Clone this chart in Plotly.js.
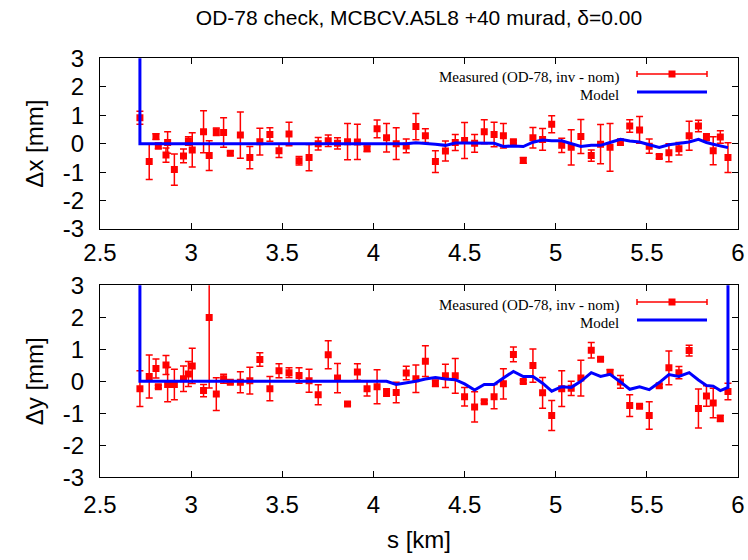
<!DOCTYPE html>
<html>
<head>
<meta charset="utf-8">
<script src="https://cdn.plot.ly/plotly-3.0.1.min.js"></script>
<style>html,body{margin:0;padding:0;background:#fff;}#chart{width:748px;height:560px;}</style>
</head>
<body>
<div id="chart"></div>
<script>
// BPM positions s [km]
const s = [2.719, 2.770, 2.807, 2.820, 2.862, 2.871, 2.908, 2.958, 2.985, 3.006,
  3.068, 3.099, 3.138, 3.178, 3.215, 3.270, 3.322, 3.377, 3.432, 3.482,
  3.537, 3.592, 3.647, 3.697, 3.752, 3.803, 3.858, 3.912, 3.965, 4.020,
  4.072, 4.125, 4.180, 4.233, 4.285, 4.340, 4.395, 4.449, 4.500, 4.555,
  4.608, 4.662, 4.713, 4.768, 4.822, 4.875, 4.928, 4.978, 5.033, 5.085,
  5.138, 5.195, 5.246, 5.298, 5.355, 5.406, 5.460, 5.513, 5.568, 5.621,
  5.676, 5.732, 5.783, 5.827, 5.864, 5.903, 5.945];

// Measured horizontal difference [mm] and errors
const dx = [0.91, -0.63, 0.25, -0.08, -0.40, 0.04, -0.91, -0.43, 0.09, -0.22,
  0.42, -0.42, 0.42, 0.39, -0.34, 0.30, -0.49, 0.07, 0.32, -0.25,
  0.34, -0.60, -0.49, 0.00, 0.10, 0.01, 0.07, 0.06, -0.18, 0.52,
  0.21, 0.00, -0.08, 0.60, 0.28, -0.63, -0.26, 0.04, 0.11, 0.01,
  0.42, 0.32, 0.28, 0.07, -0.59, 0.21, 0.15, 0.68, -0.06, -0.13,
  0.25, -0.42, -0.02, -0.13, 0.05, 0.62, 0.48, -0.09, -0.45, -0.32,
  -0.18, 0.28, 0.62, 0.23, -0.25, 0.23, -0.49];
const dxErr = [0.23, 0.63, 0.10, 0.10, 0.25, 0.38, 0.55, 0.24, 0.15, 0.60,
  0.74, 0.52, 0.13, 0.52, 0.08, 0.81, 0.39, 0.47, 0.24, 0.24,
  0.41, 0.15, 0.46, 0.22, 0.20, 0.20, 0.64, 0.62, 0.10, 0.31,
  0.50, 0.56, 0.24, 0.46, 0.24, 0.38, 0.35, 0.28, 0.63, 0.31,
  0.42, 0.43, 0.43, 0.05, 0.10, 0.36, 0.38, 0.30, 0.25, 0.62,
  0.60, 0.20, 0.69, 0.84, 0.11, 0.22, 0.47, 0.25, 0.07, 0.32,
  0.22, 0.51, 0.20, 0.12, 0.49, 0.22, 0.52];

// Measured vertical difference [mm] and errors
const dy = [-0.23, 0.15, 0.40, -0.17, 0.51, -0.10, -0.10, 0.08, 0.23, 0.48,
  -0.29, 1.99, -0.40, 0.08, -0.03, -0.03, 0.02, 0.68, -0.23, 0.33,
  0.27, 0.18, 0.02, -0.42, 0.83, 0.10, -0.71, 0.29, -0.23, -0.17,
  -0.35, -0.35, 0.26, 0.08, 0.63, -0.06, 0.17, 0.17, -0.48, -0.80,
  -0.64, -0.48, -0.08, 0.84, -0.01, 0.49, -0.36, -1.07, -0.23, -0.22,
  0.10, 0.97, 0.69, 0.28, -0.02, -0.76, -0.78, -1.07, -0.14, 0.42,
  0.27, 0.96, -0.85, -0.46, -0.68, -1.16, -0.32];
const dyErr = [0.56, 0.67, 0.30, 0.05, 0.30, 0.54, 0.48, 0.40, 0.39, 0.55,
  0.19, 2.20, 0.51, 0.14, 0.05, 0.33, 0.42, 0.21, 0.38, 0.22,
  0.15, 0.24, 0.36, 0.31, 0.44, 0.46, 0.05, 0.26, 0.23, 0.53,
  0.12, 0.32, 0.21, 0.43, 0.48, 0.10, 0.36, 0.54, 0.29, 0.47,
  0.05, 0.38, 0.47, 0.23, 0.05, 0.52, 0.48, 0.47, 0.56, 0.22,
  0.56, 0.24, 0.05, 0.08, 0.20, 0.34, 0.05, 0.43, 0.05, 0.53,
  0.19, 0.17, 0.61, 0.32, 0.46, 0.10, 0.26];

// Model at the BPMs
const modelDx = [0, 0, 0, 0, 0, 0, 0, 0, 0, 0,
  0, 0, 0, 0, 0, 0, 0, 0, 0, 0,
  0, 0, 0, 0, 0, 0, 0, 0, 0, 0,
  0, 0, 0, 0.03, 0.01, -0.02, -0.06, 0.02, 0.02, 0.02,
  0.02, 0.01, -0.10, -0.08, -0.10, 0.05, 0.13, 0.10, 0.10, -0.01,
  -0.10, -0.06, -0.06, 0.04, 0.15, 0.09, 0.06, -0.04, -0.13, -0.04,
  0.00, 0.06, 0.15, 0.04, -0.02, -0.08, -0.14];
const modelDy = [0, 0, 0, 0, 0, 0, 0, 0, 0, 0,
  0, 0, 0, 0, 0, 0, 0, 0, 0, 0,
  0, 0, 0, 0, 0, 0, 0, 0, 0, 0,
  0, -0.10, -0.06, 0.00, 0.07, 0.12, 0.07, 0.05, -0.08, -0.27,
  -0.10, -0.10, 0.10, 0.31, 0.15, 0.15, -0.06, -0.31, -0.17, -0.19,
  0.00, 0.27, 0.15, 0.22, -0.02, -0.25, -0.17, -0.26, -0.04, 0.21,
  0.15, 0.27, 0.04, -0.13, -0.15, -0.29, -0.19];
// Model value at the kick/edge points (far off the +3 mm scale)
const modelOffScale = 10;

const xTicks = [2.5, 3, 3.5, 4, 4.5, 5, 5.5, 6];
const xTickText = ['2.5', '3', '3.5', '4', '4.5', '5', '5.5', '6'];
const yTicks = [-3, -2, -1, 0, 1, 2, 3];
const yTickText = ['-3', '-2', '-1', '0', '1', '2', '3'];

const RED = '#ff0000', BLUE = '#0000ff';
const W = 748, H = 560;
const px = v => v / W, py = v => 1 - v / H;

function measured(y, err, xa, ya) {
  return {
    x: s, y: y, xaxis: xa, yaxis: ya, type: 'scatter', mode: 'markers',
    name: 'Measured (OD-78, inv - nom)',
    marker: {symbol: 'square', size: 7, color: RED},
    error_y: {type: 'data', array: err, visible: true, color: RED, thickness: 1.5, width: 3.5},
    cliponaxis: true
  };
}
const traces = [
  measured(dx, dxErr, 'x', 'y'),
  {x: [s[0]].concat(s), y: [modelOffScale].concat(modelDx), xaxis: 'x', yaxis: 'y',
   type: 'scatter', mode: 'lines', name: 'Model', line: {color: BLUE, width: 3}},
  measured(dy, dyErr, 'x2', 'y2'),
  {x: [s[0]].concat(s, [s[s.length - 1]]), y: [modelOffScale].concat(modelDy, [modelOffScale]),
   xaxis: 'x2', yaxis: 'y2', type: 'scatter', mode: 'lines', name: 'Model', line: {color: BLUE, width: 3}}
];

const FONT = 'Liberation Sans, Arial, sans-serif';
function xax(anchor, title, labelGap) {
  const a = {
    domain: [px(100), px(738)], range: [2.5, 6], anchor: anchor,
    tickmode: 'array', tickvals: xTicks, ticktext: xTickText,
    ticks: 'inside', ticklen: 6, tickwidth: 1, tickcolor: '#000',
    showline: true, linecolor: '#000', linewidth: 1, mirror: 'ticks',
    showgrid: false, zeroline: false, automargin: false,
    tickfont: {family: FONT, size: 24, color: '#000'}, ticklabelstandoff: labelGap
  };
  if (title) a.title = {text: title, font: {family: FONT, size: 24, color: '#000'}, standoff: 14};
  return a;
}
function yax(anchor, d0, d1, title) {
  return {
    domain: [py(d1), py(d0)], range: [-3, 3], anchor: anchor,
    tickmode: 'array', tickvals: yTicks, ticktext: yTickText,
    ticks: 'inside', ticklen: 6, tickwidth: 1, tickcolor: '#000',
    showline: true, linecolor: '#000', linewidth: 1, mirror: 'ticks',
    showgrid: false, zeroline: false, automargin: false,
    tickfont: {family: FONT, size: 24, color: '#000'}, ticklabelstandoff: 10,
    title: {text: title, font: {family: FONT, size: 24, color: '#000'}, standoff: 12}
  };
}

const SERIF = 'Liberation Serif, Times New Roman, serif';
const shapes = [], annotations = [];
function legend(yMeas, yModel, yMeasText, yModelText) {
  const x0 = 637, x1 = 707, xm = 672;
  shapes.push({type: 'line', xref: 'paper', yref: 'paper', x0: px(x0), x1: px(x1), y0: py(yMeas), y1: py(yMeas), line: {color: RED, width: 1.5}});
  shapes.push({type: 'line', xref: 'paper', yref: 'paper', x0: px(x0), x1: px(x0), y0: py(yMeas - 3), y1: py(yMeas + 3), line: {color: RED, width: 1.5}});
  shapes.push({type: 'line', xref: 'paper', yref: 'paper', x0: px(x1), x1: px(x1), y0: py(yMeas - 3), y1: py(yMeas + 3), line: {color: RED, width: 1.5}});
  shapes.push({type: 'rect', xref: 'paper', yref: 'paper', x0: px(xm - 3.5), x1: px(xm + 3.5), y0: py(yMeas - 3.5), y1: py(yMeas + 3.5), fillcolor: RED, line: {width: 0}});
  shapes.push({type: 'line', xref: 'paper', yref: 'paper', x0: px(x0), x1: px(x1), y0: py(yModel), y1: py(yModel), line: {color: BLUE, width: 3}});
  annotations.push({text: 'Measured (OD-78, inv - nom)', xref: 'paper', yref: 'paper', x: px(621), y: py(yMeasText), xanchor: 'right', yanchor: 'middle', showarrow: false, font: {family: SERIF, size: 15, color: '#000'}});
  annotations.push({text: 'Model', xref: 'paper', yref: 'paper', x: px(621), y: py(yModelText), xanchor: 'right', yanchor: 'middle', showarrow: false, font: {family: SERIF, size: 15, color: '#000'}});
}
legend(74, 92, 78, 95);
legend(302, 320, 306, 323);

const layout = {
  width: W, height: H,
  margin: {l: 0, r: 0, t: 0, b: 0},
  paper_bgcolor: '#fff', plot_bgcolor: '#fff',
  showlegend: false,
  title: {text: 'OD-78 check, MCBCV.A5L8 +40 murad, δ=0.00', x: px(419), xref: 'paper', xanchor: 'center',
          y: py(18), yref: 'paper', yanchor: 'middle', font: {family: FONT, size: 21, color: '#000'}},
  xaxis: xax('y', null, 2),
  yaxis: yax('x', 58.3, 229, 'Δx [mm]'),
  xaxis2: xax('y2', 's [km]', 6),
  yaxis2: yax('x2', 285.3, 477.3, 'Δy [mm]'),
  shapes: shapes,
  annotations: annotations
};

Plotly.newPlot('chart', traces, layout, {staticPlot: true, displayModeBar: false});
</script>
</body>
</html>
